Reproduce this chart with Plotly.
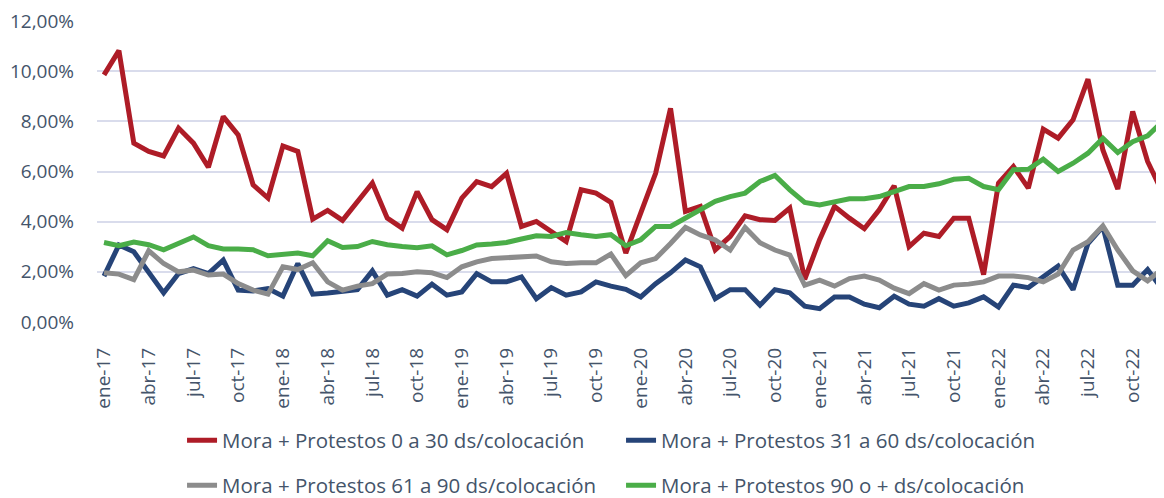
import plotly.graph_objects as go

MONTHS = ["ene", "feb", "mar", "abr", "may", "jun", "jul", "ago", "sep", "oct", "nov", "dic"]
YEARS = ["17", "18", "19", "20", "21", "22"]

periodos = [f"{m}-{y}" for y in YEARS for m in MONTHS]

y_ticks = [0, 2, 4, 6, 8, 10, 12]
y_ticktext = ["0,00%", "2,00%", "4,00%", "6,00%", "8,00%", "10,00%", "12,00%"]

# valores en %
mora_0_30 = [9.85, 10.82, 7.13, 6.80, 6.62, 7.73, 7.13, 6.17, 8.19, 7.46, 5.47, 4.94,
             7.02, 6.80, 4.10, 4.45, 4.05, 4.80, 5.54, 4.14, 3.74, 5.20, 4.08, 3.68,
             4.94, 5.60, 5.40, 5.93, 3.81, 4.01, 3.61, 3.21, 5.27, 5.14, 4.77, 2.75,
             4.34, 5.93, 8.52, 4.41, 4.61, 2.88, 3.41, 4.23, 4.08, 4.05, 4.54, 1.70,
             3.28, 4.61, 4.14, 3.72, 4.47, 5.43, 3.01, 3.54, 3.41, 4.14, 4.14, 1.89,
             5.54, 6.20, 5.34, 7.69, 7.33, 8.06, 9.68, 6.86, 5.30, 8.39, 6.40, 5.16]
mora_31_60 = [1.83, 3.07, 2.80, 2.00, 1.16, 1.93, 2.13, 1.93, 2.47, 1.27, 1.24, 1.33,
              1.03, 2.33, 1.11, 1.16, 1.24, 1.29, 2.04, 1.07, 1.29, 1.03, 1.51, 1.07,
              1.20, 1.93, 1.60, 1.60, 1.80, 0.93, 1.37, 1.07, 1.20, 1.60, 1.43, 1.30,
              1.00, 1.53, 1.96, 2.47, 2.20, 0.93, 1.29, 1.29, 0.67, 1.29, 1.16, 0.63,
              0.53, 1.00, 1.00, 0.71, 0.57, 1.03, 0.71, 0.63, 0.93, 0.63, 0.76, 1.00,
              0.60, 1.47, 1.37, 1.77, 2.23, 1.29, 3.13, 3.80, 1.47, 1.47, 2.09, 1.29]
mora_61_90 = [1.96, 1.91, 1.69, 2.84, 2.33, 2.00, 2.07, 1.87, 1.91, 1.53, 1.27, 1.11,
              2.20, 2.09, 2.36, 1.60, 1.27, 1.43, 1.53, 1.91, 1.93, 2.00, 1.96, 1.77,
              2.20, 2.40, 2.53, 2.57, 2.60, 2.63, 2.40, 2.33, 2.36, 2.36, 2.71, 1.85,
              2.36, 2.53, 3.13, 3.77, 3.47, 3.27, 2.87, 3.77, 3.16, 2.87, 2.67, 1.47,
              1.67, 1.43, 1.73, 1.83, 1.67, 1.35, 1.13, 1.53, 1.27, 1.47, 1.51, 1.60,
              1.83, 1.83, 1.77, 1.60, 1.91, 2.87, 3.20, 3.83, 2.87, 2.04, 1.64, 2.13]
mora_90_mas = [3.17, 3.04, 3.19, 3.08, 2.88, 3.12, 3.39, 3.04, 2.91, 2.91, 2.88, 2.64,
               2.71, 2.75, 2.64, 3.24, 2.97, 3.01, 3.21, 3.08, 3.01, 2.96, 3.04, 2.68,
               2.85, 3.07, 3.11, 3.17, 3.31, 3.44, 3.41, 3.57, 3.48, 3.41, 3.48, 3.04,
               3.28, 3.81, 3.81, 4.14, 4.47, 4.81, 5.00, 5.14, 5.60, 5.84, 5.27, 4.77,
               4.67, 4.77, 4.91, 4.91, 5.00, 5.20, 5.40, 5.40, 5.51, 5.69, 5.73, 5.40,
               5.27, 6.07, 6.09, 6.49, 6.00, 6.33, 6.73, 7.33, 6.76, 7.19, 7.42, 7.99]

series = [
    ("Mora + Protestos 0 a 30 ds/colocación", mora_0_30, "#ae1c27", "legend"),
    ("Mora + Protestos 31 a 60 ds/colocación", mora_31_60, "#264478", "legend"),
    ("Mora + Protestos 61 a 90 ds/colocación", mora_61_90, "#8c8c8c", "legend2"),
    ("Mora + Protestos 90 o + ds/colocación", mora_90_mas, "#4aad48", "legend2"),
]

TEXT_COLOR = "#44546a"
FONT = "Open Sans"

fig = go.Figure()
for name, vals, color, leg in series:
    fig.add_trace(go.Scatter(
        x=periodos, y=vals, name=name, mode="lines",
        line=dict(color=color, width=5),
        legend=leg,
    ))

# dos filas de leyenda, cada una con su propia leyenda
legend_style = dict(
    orientation="h",
    xanchor="left",
    yanchor="middle",
    x=0.0797,
    entrywidth=394,
    entrywidthmode="pixels",
    font=dict(family=FONT, size=20.5, color=TEXT_COLOR),
    bgcolor="rgba(0,0,0,0)",
)

# la pagina tiene 8px de margen en el body -> figura 8px mas chica
fig.update_layout(
    width=1156, height=490,
    paper_bgcolor="white", plot_bgcolor="white",
    margin=dict(l=89, r=0, t=12, b=176, autoexpand=False),
    font=dict(family=FONT, size=19, color=TEXT_COLOR),
    legend=dict(legend_style, y=-0.392),
    legend2=dict(legend_style, y=-0.5415),
)

fig.update_xaxes(
    type="category",
    range=[-0.47, 71.1],
    tickvals=periodos[::3],
    ticktext=periodos[::3],
    tickangle=-90,
    ticklabelstandoff=21,
    showgrid=False,
    showline=False,
    zeroline=False,
    automargin=False,
)
fig.update_yaxes(
    range=[0, 12.04],
    tickvals=y_ticks,
    ticktext=y_ticktext,
    ticklabelstandoff=22,
    ticklabeloverflow="allow",
    showgrid=True,
    gridcolor="#d9dcec",
    gridwidth=1.5,
    zeroline=False,
    automargin=False,
)

fig.write_html("out.html")
